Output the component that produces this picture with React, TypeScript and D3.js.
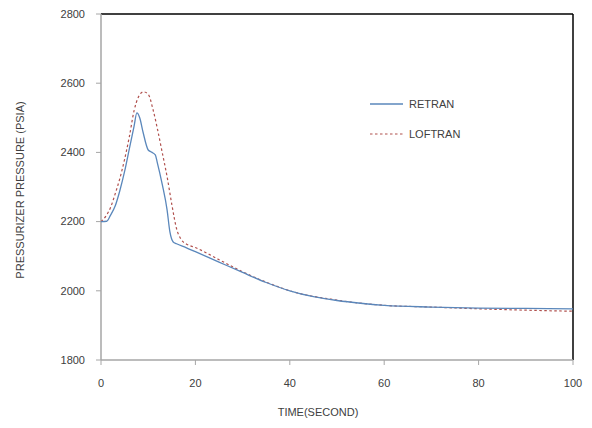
import React from "react";
import * as d3 from "d3";

const retranTime = [0, 1.2, 2, 3, 4, 5, 6, 7, 7.6, 8.2, 8.9, 10, 10.8, 11.5, 11.9, 13, 14, 14.6, 15.3, 16, 18, 20, 25, 30, 35, 40, 45, 50, 55, 60, 70, 80, 90, 100];
const retranValue = [2200, 2201, 2218, 2245, 2290, 2345, 2410, 2475, 2514, 2500, 2459, 2407, 2400, 2393, 2372, 2306, 2234, 2170, 2141, 2136, 2125, 2113, 2083, 2053, 2024, 2000, 1983, 1972, 1964, 1958, 1953, 1950, 1949, 1948];
const loftranTime = [0, 1, 2, 3, 4, 5, 6, 7, 8, 9, 10, 11, 12, 13, 14, 15, 16, 17, 18, 20, 25, 30, 35, 40, 50, 60, 70, 80, 90, 100];
const loftranValue = [2200, 2215, 2240, 2280, 2325, 2380, 2445, 2520, 2562, 2575, 2568, 2525, 2465, 2398, 2330, 2250, 2180, 2148, 2136, 2125, 2090, 2055, 2025, 2000, 1973, 1958, 1953, 1948, 1944, 1941];
const xTicks = [0, 20, 40, 60, 80, 100];
const yTicks = [1800, 2000, 2200, 2400, 2600, 2800];
const seriesNames = ["RETRAN", "LOFTRAN"];

export default function App() {
  const W = 592, H = 428;
  const left = 101, right = 573, top = 14, bottom = 360;
  const x = d3.scaleLinear().domain([0, 100]).range([left, right]);
  const y = d3.scaleLinear().domain([1800, 2800]).range([bottom, top]);
  const line = d3.line<[number, number]>().x(d => x(d[0])).y(d => y(d[1])).curve(d3.curveMonotoneX);
  const rData = retranTime.map((t, i) => [t, retranValue[i]] as [number, number]);
  const lData = loftranTime.map((t, i) => [t, loftranValue[i]] as [number, number]);
  const font = "'Liberation Sans', Arial, sans-serif";
  const txt = "#404040";
  const blue = "#5a87bb";
  const red = "#b0504d";
  return (
    <svg width={W} height={H} style={{ position: "absolute", left: 0, top: 0, background: "#fff" }} fontFamily={font}>
      <rect x={0} y={0} width={W} height={H} fill="#fff" />
      <line x1={left} x2={right} y1={top} y2={top} stroke="#000" strokeWidth={1.5} />
      <line x1={right} x2={right} y1={top} y2={bottom} stroke="#000" strokeWidth={1.5} />
      <line x1={left} x2={left} y1={top} y2={bottom} stroke="#a6a6a6" strokeWidth={1.5} />
      <line x1={left} x2={right} y1={bottom} y2={bottom} stroke="#a6a6a6" strokeWidth={1.5} />
      {yTicks.map(t => (
        <g key={"y" + t}>
          <line x1={left - 5} x2={left} y1={y(t)} y2={y(t)} stroke="#a6a6a6" />
          <text x={85} y={y(t)} dy="0.35em" textAnchor="end" fontSize={11} fill={txt}>{t}</text>
        </g>
      ))}
      {xTicks.map(t => (
        <g key={"x" + t}>
          <line x1={x(t)} x2={x(t)} y1={bottom} y2={bottom + 5} stroke="#a6a6a6" />
          <text x={x(t)} y={383} dy="0.35em" textAnchor="middle" fontSize={11} fill={txt}>{t}</text>
        </g>
      ))}
      <text x={318} y={412} dy="0.35em" textAnchor="middle" fontSize={11} fill={txt}>TIME(SECOND)</text>
      <text transform={`translate(20,${190}) rotate(-90)`} textAnchor="middle" dy="0.35em" fontSize={11} fill={txt}>PRESSURIZER PRESSURE (PSIA)</text>
      <path d={line(lData) || ""} fill="none" stroke={red} strokeWidth={1.2} strokeDasharray="2.5,2.5" />
      <path d={line(rData) || ""} fill="none" stroke={blue} strokeWidth={1.3} />
      <line x1={370} x2={403} y1={104} y2={104} stroke={blue} strokeWidth={1.3} />
      <text x={409} y={104} dy="0.35em" fontSize={11} fill={txt}>{seriesNames[0]}</text>
      <line x1={370} x2={403} y1={134} y2={134} stroke={red} strokeWidth={1.2} strokeDasharray="2.5,2.5" />
      <text x={409} y={134} dy="0.35em" fontSize={11} fill={txt}>{seriesNames[1]}</text>
    </svg>
  );
}
